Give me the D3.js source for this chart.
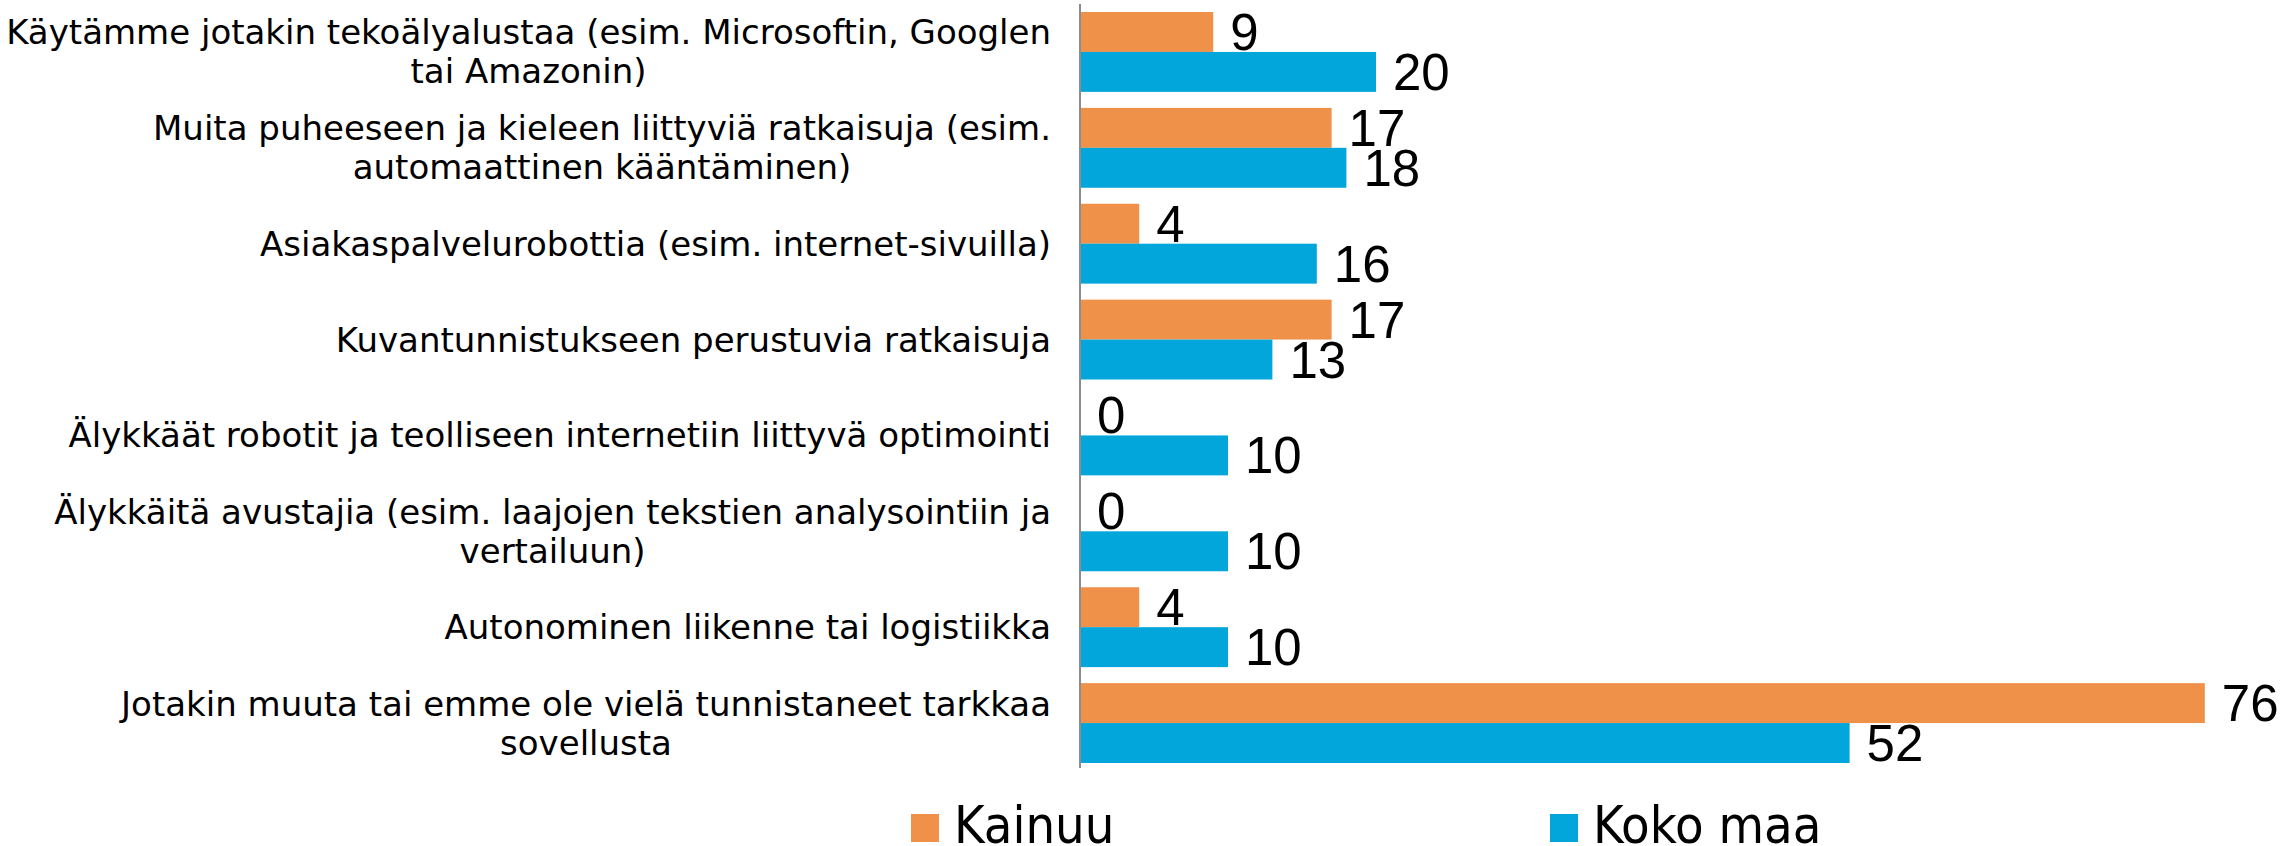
<!DOCTYPE html>
<html>
<head>
<meta charset="utf-8">
<script src="https://cdn.jsdelivr.net/npm/d3@7"></script>
<style>
html,body{margin:0;padding:0;background:#fff;}
svg{display:block;}
</style>
</head>
<body>
<svg id="chart" width="2280" height="846"></svg>
<script>
const categories = [
  ["Käytämme jotakin tekoälyalustaa (esim. Microsoftin, Googlen", "tai Amazonin)"],
  ["Muita puheeseen ja kieleen liittyviä ratkaisuja (esim.", "automaattinen kääntäminen)"],
  ["Asiakaspalvelurobottia (esim. internet-sivuilla)"],
  ["Kuvantunnistukseen perustuvia ratkaisuja"],
  ["Älykkäät robotit ja teolliseen internetiin liittyvä optimointi"],
  ["Älykkäitä avustajia (esim. laajojen tekstien analysointiin ja", "vertailuun)"],
  ["Autonominen liikenne tai logistiikka"],
  ["Jotakin muuta tai emme ole vielä tunnistaneet tarkkaa", "sovellusta"]
];
const seriesNames = ["Kainuu", "Koko maa"];
const kainuu = [9, 17, 4, 17, 0, 0, 4, 76];
const kokoMaa = [20, 18, 16, 13, 10, 10, 10, 52];
const colors = ["#F0914A", "#02A6DB"];

const svg = d3.select("#chart");
const catKeys = categories.map((c, i) => i);
const x = d3.scaleLinear().domain([0, 80]).range([1080, 1080 + 80 * 14.8]);
const y = d3.scaleBand().domain(catKeys).range([4, 771]).paddingInner(0.167).paddingOuter(0.0835);
const ySub = d3.scaleBand().domain([0, 1]).range([0, y.bandwidth()]);
const series = [kainuu, kokoMaa];

// bars
series.forEach((vals, s) => {
  const g = svg.append("g");
  g.selectAll("rect").data(vals).join("rect")
    .attr("x", x(0))
    .attr("y", (d, i) => y(i) + ySub(s))
    .attr("width", d => x(d) - x(0))
    .attr("height", ySub.bandwidth())
    .attr("fill", colors[s]);
  g.selectAll("text").data(vals).join("text")
    .attr("x", d => x(d) + 17)
    .attr("y", (d, i) => y(i) + ySub(s) + ySub.bandwidth() / 2 + 18)
    .attr("font-family", "Liberation Sans, Arial, sans-serif")
    .attr("font-size", 51)
    .attr("fill", "#000")
    .text(d => d);
});

// axis line
svg.append("line")
  .attr("x1", x(0)).attr("x2", x(0))
  .attr("y1", y.range()[0]).attr("y2", y.range()[1] - 3)
  .attr("stroke", "#8C8C8C").attr("stroke-width", 2);

// category labels
const labelRight = 1051;
const lineH = 39;
categories.forEach((lines, i) => {
  const t = svg.append("text")
    .attr("font-family", "DejaVu Sans, sans-serif")
    .attr("font-size", 34)
    .attr("fill", "#000")
    .attr("text-anchor", "middle");
  const cy = y(i) + y.bandwidth() / 2;
  const spans = lines.map((ln, k) => t.append("tspan")
    .attr("y", cy + (k - (lines.length - 1) / 2) * lineH + 12)
    .text(ln));
  const maxW = d3.max(spans.map(sp => sp.node().getComputedTextLength()));
  spans.forEach(sp => sp.attr("x", labelRight - maxW / 2));
});

// legend
const legendX = [911, 1550];
seriesNames.forEach((name, s) => {
  svg.append("rect")
    .attr("x", legendX[s]).attr("y", 814)
    .attr("width", 28).attr("height", 28)
    .attr("fill", colors[s]);
  svg.append("text")
    .attr("x", legendX[s] + 43).attr("y", 843)
    .attr("font-family", "DejaVu Sans Condensed, DejaVu Sans, sans-serif")
    .attr("font-size", 52)
    .attr("fill", "#000")
    .text(name);
});
</script>
</body>
</html>
